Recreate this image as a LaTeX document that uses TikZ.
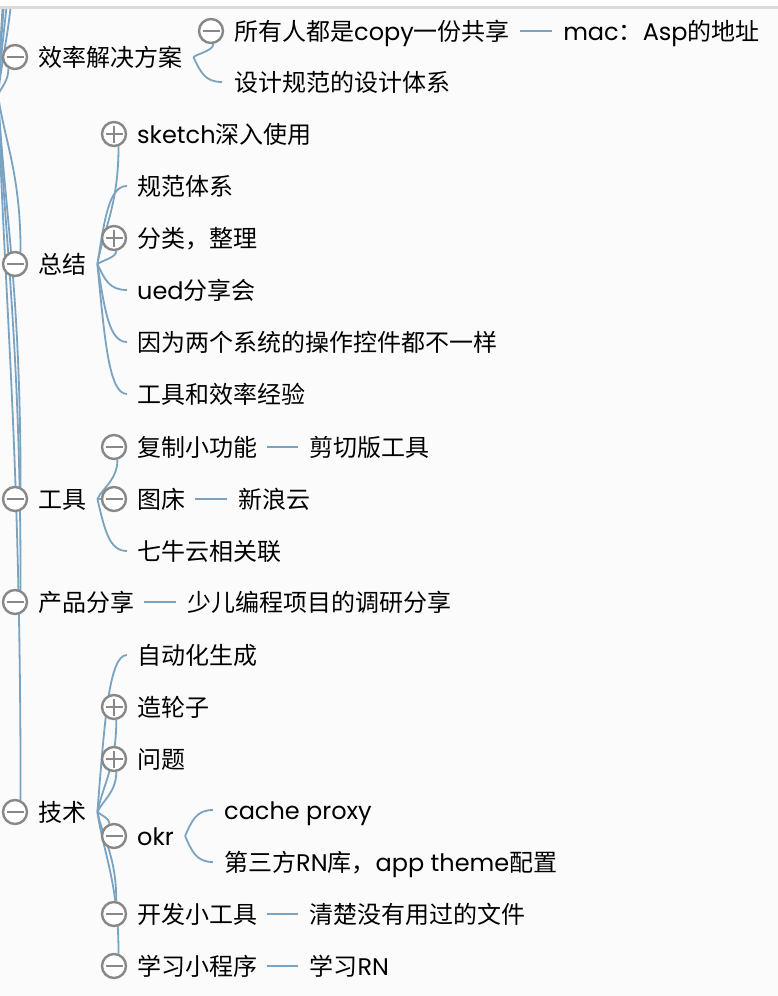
\documentclass[tikz,border=0pt]{standalone}
\usepackage{fontspec}
\setmainfont{Noto Sans CJK SC}
\newfontfamily\latfont{Poppins}
\newcommand\lat[1]{{\latfont #1}}
\usetikzlibrary{calc}
\pgfdeclarelayer{back}\pgfdeclarelayer{bg}\pgfdeclarelayer{front}
\pgfsetlayers{back,bg,main,front}
\definecolor{conncol}{HTML}{7AA3C2}
\definecolor{circgray}{HTML}{888888}
\definecolor{paper}{HTML}{FBFBFB}
\definecolor{rulegray}{HTML}{DCDCDC}
\tikzset{
  txt/.style={anchor=west, inner sep=0pt, text height=20pt, text depth=1.6pt,
    font=\fontsize{24}{28}\selectfont, text=black},
  conn/.style={draw=conncol, line width=1.8pt},
  toggle/.style={circle, draw=circgray, line width=2.4pt, fill=white,
    minimum size=24pt, inner sep=0pt},
  minus/.style={toggle, path picture={
    \draw[circgray, line width=2.6pt]
      ([xshift=-8.5pt]path picture bounding box.center) --
      ([xshift=8.5pt]path picture bounding box.center);}},
  plus/.style={toggle, path picture={
    \draw[circgray, line width=2.6pt]
      ([xshift=-8.5pt]path picture bounding box.center) --
      ([xshift=8.5pt]path picture bounding box.center)
      ([yshift=-8.5pt]path picture bounding box.center) --
      ([yshift=8.5pt]path picture bounding box.center);}},
}
% curve ending horizontally
\newcommand\mmH[2]{\draw[conn] let \p1=(#1), \p2=(#2) in (\p1) .. controls ({\x1+0.25*(\x2-\x1)},{\y1+0.6*(\y2-\y1)}) and ({\x2-0.6*(\x2-\x1)},\y2) .. (\p2);}
% curve ending vertically
\newcommand\mmV[2]{\draw[conn] let \p1=(#1), \p2=(#2) in (\p1) .. controls ({\x1+0.3*(\x2-\x1)},{\y1+0.3*(\y2-\y1)}) and (\x2,{\y2-0.5*(\y2-\y1)}) .. (\p2);}
\begin{document}
\begin{tikzpicture}[x=1pt,y=-1pt]
\useasboundingbox (0,0) rectangle (778,996);
\begin{pgfonlayer}{back}
  \fill[paper] (0,0) rectangle (778,996);
\end{pgfonlayer}
\begin{pgfonlayer}{front}
  \fill[white] (0,0) rectangle (778,6);
  \fill[rulegray] (0,6) rectangle (778,8.5);
\end{pgfonlayer}

\coordinate (root) at (-2,95);
\coordinate (up1) at (14,-60);
\coordinate (up2) at (16,-170);
\coordinate (up3) at (16,-280);
\coordinate (up4) at (18,-400);

% level 1: 效率解决方案
\node[minus] (c1) at (15,57) {};
\node[txt] (t1) at (38,57) {效率解决方案};
\coordinate (f1) at ([xshift=11pt]t1.east);
\node[minus] (c11) at (211,31) {};
\node[txt] (t11) at (234,31) {所有人都是\lat{copy}一份共享};
\node[txt] (t111) at ([xshift=53pt]t11.east) {\lat{mac}：\lat{Asp}的地址};
\node[txt] (t12) at (234,82) {设计规范的设计体系};

% level 1: 总结
\node[minus] (c2) at (15,264) {};
\node[txt] (t2) at (38,264) {总结};
\coordinate (f2) at ([xshift=11pt]t2.east);
\node[plus] (c21) at (114,134) {};
\node[txt] (t21) at (137,134) {\lat{sketch}深入使用};
\node[txt] (t22) at (137,186) {规范体系};
\node[plus] (c23) at (114,238) {};
\node[txt] (t23) at (137,238) {分类，整理};
\node[txt] (t24) at (137,290) {\lat{ued}分享会};
\node[txt] (t25) at (137,342) {因为两个系统的操作控件都不一样};
\node[txt] (t26) at (137,394) {工具和效率经验};

% level 1: 工具
\node[minus] (c3) at (15,499) {};
\node[txt] (t3) at (38,499) {工具};
\coordinate (f3) at ([xshift=11pt]t3.east);
\node[minus] (c31) at (114,447) {};
\node[txt] (t31) at (137,447) {复制小功能};
\node[txt] (t311) at ([xshift=52pt]t31.east) {剪切版工具};
\node[minus] (c32) at (114,499) {};
\node[txt] (t32) at (137,499) {图床};
\node[txt] (t321) at ([xshift=53pt]t32.east) {新浪云};
\node[txt] (t33) at (137,551) {七牛云相关联};

% level 1: 产品分享
\node[minus] (c4) at (15,602) {};
\node[txt] (t4) at (38,602) {产品分享};
\node[txt] (t41) at ([xshift=53pt]t4.east) {少儿编程项目的调研分享};

% level 1: 技术
\node[minus] (c5) at (15,812) {};
\node[txt] (t5) at (38,812) {技术};
\coordinate (f5) at ([xshift=11pt]t5.east);
\node[txt] (t51) at (137,655) {自动化生成};
\node[plus] (c52) at (114,707) {};
\node[txt] (t52) at (137,707) {造轮子};
\node[plus] (c53) at (114,759) {};
\node[txt] (t53) at (137,759) {问题};
\node[minus] (c54) at (114,836) {};
\node[txt] (t54) at (137,836) {\lat{okr}};
\coordinate (f54) at ([xshift=11pt]t54.east);
\node[txt] (t541) at (224,810) {\lat{cache proxy}};
\node[txt] (t542) at (224,862) {第三方\lat{RN}库，\lat{app theme}配置};
\node[minus] (c55) at (114,914) {};
\node[txt] (t55) at (137,914) {开发小工具};
\node[txt] (t551) at ([xshift=52pt]t55.east) {清楚没有用过的文件};
\node[minus] (c56) at (114,966) {};
\node[txt] (t56) at (137,966) {学习小程序};
\node[txt] (t561) at ([xshift=52pt]t56.east) {学习\lat{RN}};

\begin{pgfonlayer}{bg}
  % root connectors
  \mmV{root}{up1}
  \mmV{root}{up2}
  \mmV{root}{up3}
  \mmV{root}{up4}
  \mmV{root}{c1.-120}
  \mmV{root}{c2.65}
  \mmV{root}{c3.65}
  \mmV{root}{c4.65}
  \mmV{root}{c5.65}
  % 效率解决方案
  \mmV{f1}{c11.-80}
  \mmH{f1}{[xshift=-12pt]t12.west}
  \draw[conn] ([xshift=10pt]t11.east) -- ([xshift=-11pt]t111.west);
  % 总结
  \mmV{f2}{c21.-70}
  \mmH{f2}{[xshift=-10pt]t22.west}
  \mmV{f2}{c23.-80}
  \mmH{f2}{[xshift=-10pt]t24.west}
  \mmH{f2}{[xshift=-10pt]t25.west}
  \mmH{f2}{[xshift=-10pt]t26.west}
  % 工具
  \mmV{f3}{c31.-75}
  \draw[conn] (f3) -- (c32.west);
  \mmH{f3}{[xshift=-10pt]t33.west}
  \draw[conn] ([xshift=10pt]t31.east) -- ([xshift=-11pt]t311.west);
  \draw[conn] ([xshift=10pt]t32.east) -- ([xshift=-11pt]t321.west);
  % 产品分享
  \draw[conn] ([xshift=10pt]t4.east) -- ([xshift=-11pt]t41.west);
  % 技术
  \mmH{f5}{[xshift=-10pt]t51.west}
  \mmV{f5}{c52.-80}
  \mmV{f5}{c53.-80}
  \mmV{f5}{c54.110}
  \mmV{f5}{c55.80}
  \mmV{f5}{c56.70}
  \mmH{f54}{[xshift=-11pt]t541.west}
  \mmH{f54}{[xshift=-11pt]t542.west}
  \draw[conn] ([xshift=10pt]t55.east) -- ([xshift=-11pt]t551.west);
  \draw[conn] ([xshift=10pt]t56.east) -- ([xshift=-11pt]t561.west);
\end{pgfonlayer}
\end{tikzpicture}
\end{document}
